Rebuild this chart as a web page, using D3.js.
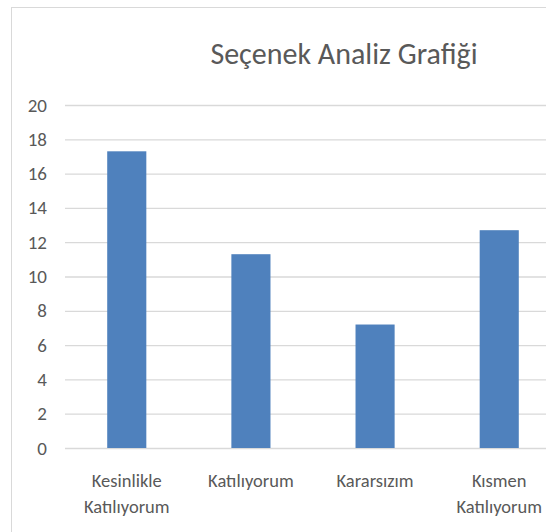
<!DOCTYPE html>
<html>
<head>
<meta charset="utf-8">
<script src="https://cdn.jsdelivr.net/npm/d3@7"></script>
<style>
    body { margin: 0; background: #fff; }
    svg text { font-family: Carlito, Lato, "Open Sans", sans-serif; fill: #595959; }
</style>
</head>
<body>
<svg id="chart" width="546" height="532"></svg>
<script>
const title = 'Seçenek Analiz Grafiği';
const categories = [
    ['Kesinlikle', 'Katılıyorum'],
    ['Katılıyorum'],
    ['Kararsızım'],
    ['Kısmen', 'Katılıyorum'],
];
const values = [17.3, 11.3, 7.2, 12.7];
const y_ticks = [0, 2, 4, 6, 8, 10, 12, 14, 16, 18, 20];


function draw() {
    const svg = d3.select('#chart');

    // chart frame, runs off the right and bottom edge like the source
    svg.append('rect')
        .attr('x', 11.5)
        .attr('y', 7.5)
        .attr('width', 700)
        .attr('height', 600)
        .attr('fill', '#fff')
        .attr('stroke', '#d9d9d9');

    const y = d3.scaleLinear().domain([0, 20]).range([448, 105]);
    const x = d3.scaleBand()
        .domain(d3.range(categories.length))
        .range([65, 561])
        .paddingInner(0.685)
        .paddingOuter(0.34);

    const grid = svg.append('g')
        .attr('transform', 'translate(65,0)')
        .call(
            d3.axisLeft(y)
                .tickValues(y_ticks)
                .tickSize(-520)
                .tickPadding(18)
        );
    grid.select('.domain').remove();
    grid.selectAll('.tick line')
        .attr('stroke', '#d9d9d9')
        .attr('stroke-width', 1.3);
    grid.selectAll('.tick text')
        .attr('font-size', 19)
        .attr('fill', '#595959');

    svg.append('g')
        .selectAll('rect')
        .data(values)
        .join('rect')
        .attr('x', (d, i) => x(i))
        .attr('y', d => y(d))
        .attr('width', x.bandwidth())
        .attr('height', d => y(0) - y(d))
        .attr('fill', '#4f81bd');

    const labels = svg.append('g')
        .selectAll('text')
        .data(categories)
        .join('text')
        .attr('text-anchor', 'middle')
        .attr('font-size', 18.5)
        .attr('x', (d, i) => x(i) + x.bandwidth() / 2)
        .attr('y', 487);
    labels.selectAll('tspan')
        .data(d => d)
        .join('tspan')
        .attr('x', function () { return this.parentNode.getAttribute('x'); })
        .attr('dy', (d, i) => i === 0 ? 0 : 26)
        .text(d => d);

    svg.append('text')
        .attr('x', 344)
        .attr('y', 64)
        .attr('text-anchor', 'middle')
        .attr('font-size', 30)
        .text(title);
}

draw();
</script>
</body>
</html>
